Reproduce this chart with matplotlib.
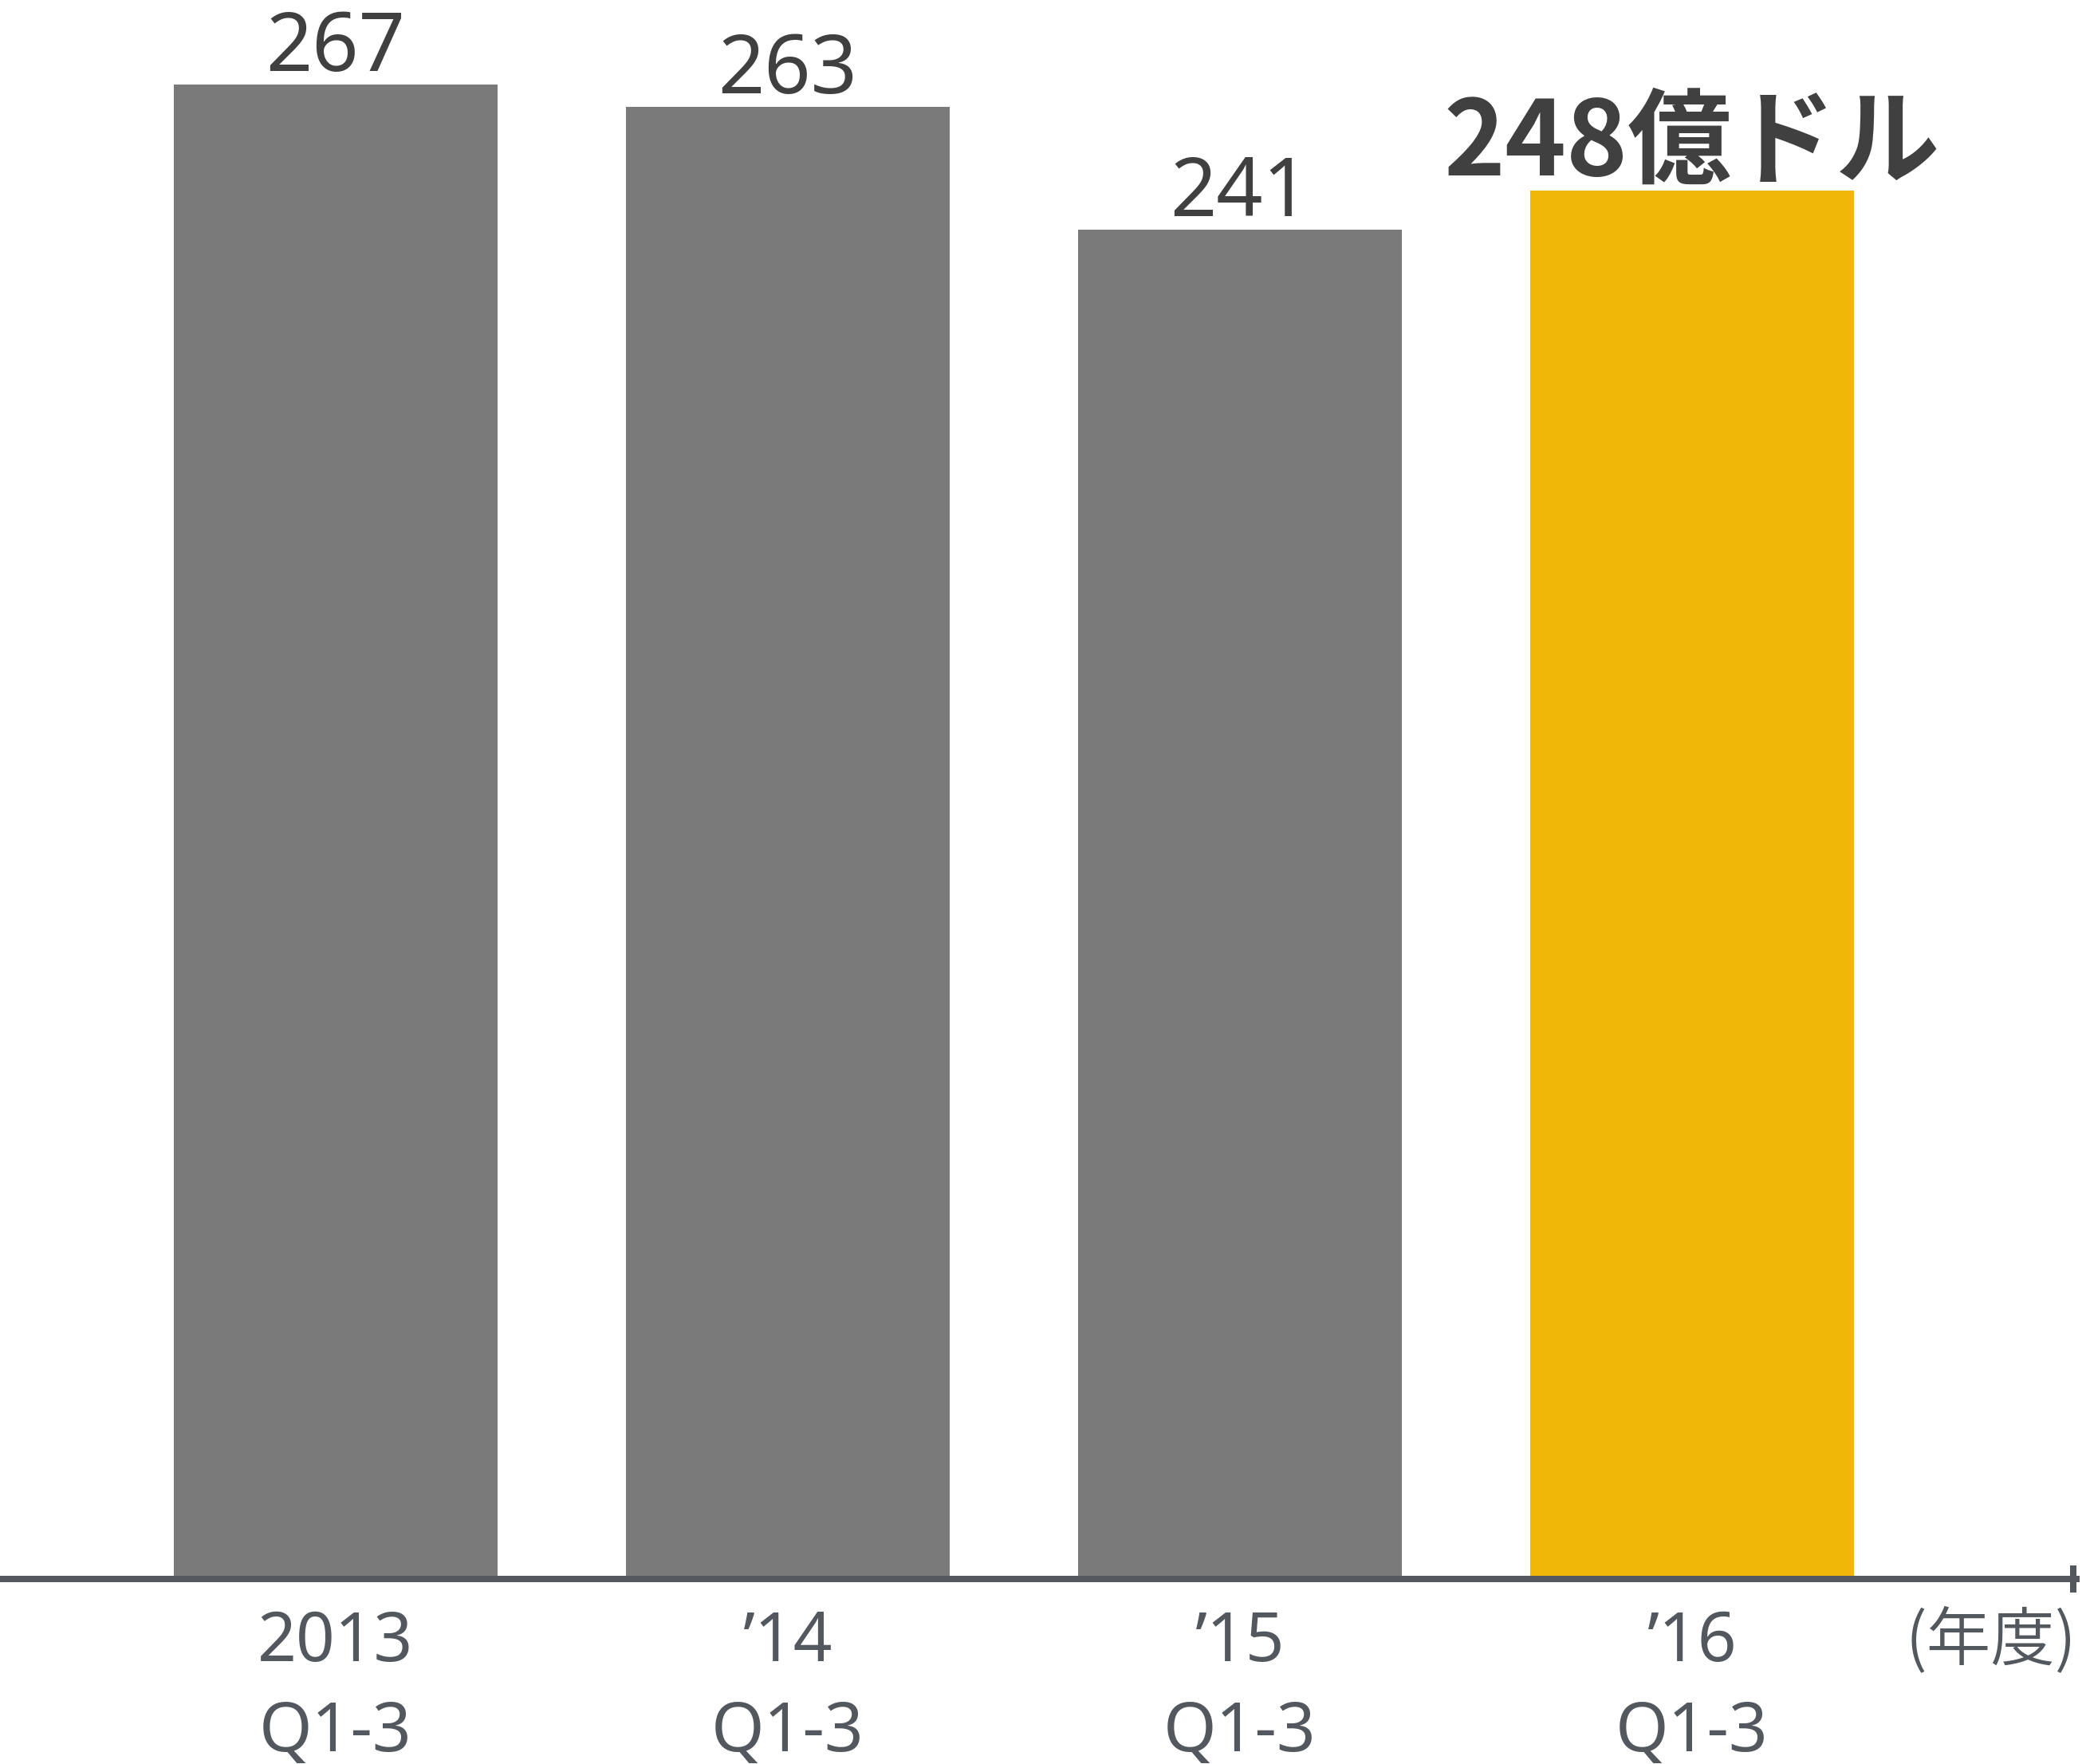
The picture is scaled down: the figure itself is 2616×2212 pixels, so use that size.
import matplotlib
matplotlib.use("Agg")
import matplotlib.pyplot as plt
from matplotlib.lines import Line2D
from matplotlib import font_manager

years = ["2013", "’14", "’15", "’16"]
periods = ["Q1-3", "Q1-3", "Q1-3", "Q1-3"]
values = [267, 263, 241, 248]
value_labels = ["267", "263", "241", "248億ドル"]
unit_label = "(年度)"

plt.rcParams['font.family'] = ['Noto Sans CJK JP', 'DejaVu Sans']


def pick_weight(name, wanted):
    ws = {f.weight for f in font_manager.fontManager.ttflist if f.name == name}
    ws = {w for w in ws if isinstance(w, int)}
    for w in wanted:
        if w in ws:
            return w
    return "normal"


num_family = ['Noto Sans', 'Noto Sans CJK JP', 'DejaVu Sans']
num_weight = pick_weight('Noto Sans', [300, 350, 400])
cjk_weight = pick_weight('Noto Sans CJK JP', [350, 400])

W, H = 2616, 2212
DPI = 100
fig = plt.figure(figsize=(W / DPI, H / DPI), dpi=DPI)
fig.patch.set_facecolor("white")

ax = fig.add_axes([0, (H - 1980) / H, 2604 / W, 1980 / H])
ax.set_facecolor("none")

grey = "#7a7a7a"
yellow = "#f0b706"
axis_col = "#53585e"
val_col = "#404040"

colors = [grey, grey, grey, yellow]
xs = list(range(len(values)))
ax.bar(xs, values, width=0.716, color=colors, zorder=1)

ax.set_xlim(-0.7425, 3.85)
ax.set_ylim(0, 1980 / 7.02)

for s in ["top", "left", "right"]:
    ax.spines[s].set_visible(False)
ax.spines["bottom"].set_color(axis_col)
ax.spines["bottom"].set_linewidth(8 * 72 / DPI)
ax.spines["bottom"].set_zorder(3)
ax.set_yticks([])
ax.set_xticks([])

xe = 2600 / W
fig.add_artist(Line2D([xe, xe], [(H - 1997) / H, (H - 1963) / H],
                      lw=8 * 72 / DPI, color=axis_col, solid_capstyle="butt"))

for i, (v, lab) in enumerate(zip(values, value_labels)):
    if i == len(values) - 1:
        ax.text(i, v + 2.8, lab, ha="center", va="baseline", fontsize=94,
                fontweight="bold", color=val_col, clip_on=False)
    else:
        ax.text(i, v + 2.4, lab, ha="center", va="baseline", fontsize=73.5,
                family=num_family, fontweight=num_weight, color=val_col,
                clip_on=False)

for i, (yr, p) in enumerate(zip(years, periods)):
    ax.text(i, -(2083 - 1980) / 7.02, yr, ha="center", va="baseline",
            fontsize=61.5, family=num_family, fontweight=num_weight,
            color=axis_col, clip_on=False)
    ax.text(i, -(2196 - 1980) / 7.02, p, ha="center", va="baseline",
            fontsize=61.5, family=num_family, fontweight=num_weight,
            color=axis_col, clip_on=False)

fig.text(2604 / W, (H - 2058) / H, unit_label, ha="right", va="center",
         fontsize=58, fontweight=cjk_weight, color=axis_col)

fig.savefig("out.png", dpi=DPI, facecolor="white")
